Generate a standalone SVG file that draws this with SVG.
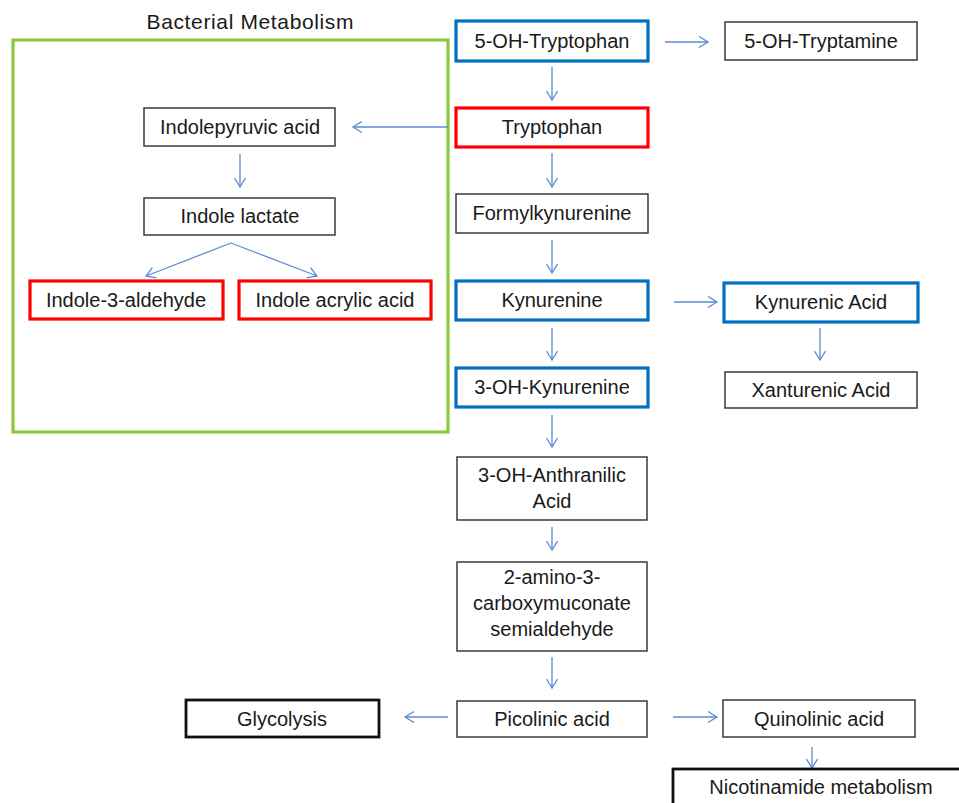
<svg xmlns="http://www.w3.org/2000/svg" width="959" height="803" viewBox="0 0 959 803">
<defs>
<marker id="ah" markerUnits="userSpaceOnUse" markerWidth="14" markerHeight="14" refX="10" refY="6" orient="auto">
<path d="M1,0.5 L10,6 L1,11.5" fill="none" stroke="#5B8BD0" stroke-width="1.3"/>
</marker>
<style>
.t{font-family:"Liberation Sans",Arial,sans-serif;font-size:20px;fill:#1a1a1a;text-anchor:middle}
.blk{fill:#fff;stroke:#3a3a3a;stroke-width:1.5}
.thk{fill:#fff;stroke:#111;stroke-width:2.8}
.blu{fill:#fff;stroke:#0070C0;stroke-width:3.2}
.red{fill:#fff;stroke:#FF0000;stroke-width:3.2}
.grn{fill:none;stroke:#8DC63F;stroke-width:3.2}
.c{fill:none;stroke:#5B8BD0;stroke-width:1.3;marker-end:url(#ah)}
</style>
</defs>
<rect width="959" height="803" fill="#fff"/>
<g id="bacterial">
<rect class="grn" x="13" y="40" width="435" height="392"/>
<text class="t" x="250" y="29" style="font-size:21px" textLength="207" lengthAdjust="spacing">Bacterial  Metabolism</text>
</g>
<g id="connectors">
<line class="c" x1="665" y1="42" x2="708" y2="42"/>
<line class="c" x1="552" y1="67" x2="552" y2="100"/>
<line class="c" x1="448" y1="127" x2="353" y2="127"/>
<line class="c" x1="240" y1="154" x2="240" y2="187"/>
<line class="c" x1="231" y1="243" x2="146" y2="276"/>
<line class="c" x1="231" y1="243" x2="317" y2="276"/>
<line class="c" x1="552" y1="153" x2="552" y2="187"/>
<line class="c" x1="552" y1="240" x2="552" y2="273"/>
<line class="c" x1="674" y1="302" x2="717" y2="302"/>
<line class="c" x1="552" y1="328" x2="552" y2="360"/>
<line class="c" x1="820" y1="328" x2="820" y2="360"/>
<line class="c" x1="552" y1="415" x2="552" y2="447"/>
<line class="c" x1="552" y1="527" x2="552" y2="550"/>
<line class="c" x1="552" y1="657" x2="552" y2="688"/>
<line class="c" x1="448" y1="717" x2="405" y2="717"/>
<line class="c" x1="673" y1="717" x2="717" y2="717"/>
<line class="c" x1="812" y1="747" x2="812" y2="768"/>
</g>
<g id="n-5oh-trp"><rect class="blu" x="456" y="21" width="192" height="40"/><text class="t" x="552" y="48">5-OH-Tryptophan</text></g>
<g id="n-5oh-tryptamine"><rect class="blk" x="725" y="22" width="192" height="38"/><text class="t" x="821" y="48">5-OH-Tryptamine</text></g>
<g id="n-trp"><rect class="red" x="456" y="108" width="192" height="39"/><text class="t" x="552" y="134">Tryptophan</text></g>
<g id="n-formyl"><rect class="blk" x="456" y="194" width="192" height="39"/><text class="t" x="552" y="220">Formylkynurenine</text></g>
<g id="n-kyn"><rect class="blu" x="456" y="281" width="192" height="39"/><text class="t" x="552" y="307">Kynurenine</text></g>
<g id="n-kyna"><rect class="blu" x="724" y="283" width="194" height="39"/><text class="t" x="821" y="309">Kynurenic Acid</text></g>
<g id="n-3ohkyn"><rect class="blu" x="456" y="368" width="192" height="39"/><text class="t" x="552" y="394">3-OH-Kynurenine</text></g>
<g id="n-xa"><rect class="blk" x="725" y="372" width="192" height="36"/><text class="t" x="821" y="397">Xanturenic Acid</text></g>
<g id="n-3oha"><rect class="blk" x="457" y="457" width="190" height="63"/><text class="t" x="552" y="482">3-OH-Anthranilic</text><text class="t" x="552" y="508">Acid</text></g>
<g id="n-acms"><rect class="blk" x="457" y="562" width="190" height="89"/><text class="t" x="552" y="584">2-amino-3-</text><text class="t" x="552" y="610">carboxymuconate</text><text class="t" x="552" y="636">semialdehyde</text></g>
<g id="n-pic"><rect class="blk" x="457" y="701" width="190" height="36"/><text class="t" x="552" y="726">Picolinic acid</text></g>
<g id="n-gly"><rect class="thk" x="186" y="700" width="193" height="37"/><text class="t" x="282" y="726">Glycolysis</text></g>
<g id="n-quin"><rect class="blk" x="723" y="700" width="192" height="37"/><text class="t" x="819" y="726">Quinolinic acid</text></g>
<g id="n-nic"><rect class="thk" x="673" y="769" width="296" height="40"/><text class="t" x="821" y="794">Nicotinamide metabolism</text></g>
<g id="n-ipa"><rect class="blk" x="144" y="108" width="191" height="38"/><text class="t" x="240" y="134">Indolepyruvic acid</text></g>
<g id="n-ila"><rect class="blk" x="144" y="198" width="191" height="37"/><text class="t" x="240" y="223">Indole lactate</text></g>
<g id="n-i3a"><rect class="red" x="30" y="281" width="193" height="38"/><text class="t" x="126" y="307">Indole-3-aldehyde</text></g>
<g id="n-iacr"><rect class="red" x="239" y="281" width="192" height="38"/><text class="t" x="335" y="307">Indole acrylic acid</text></g>
</svg>
